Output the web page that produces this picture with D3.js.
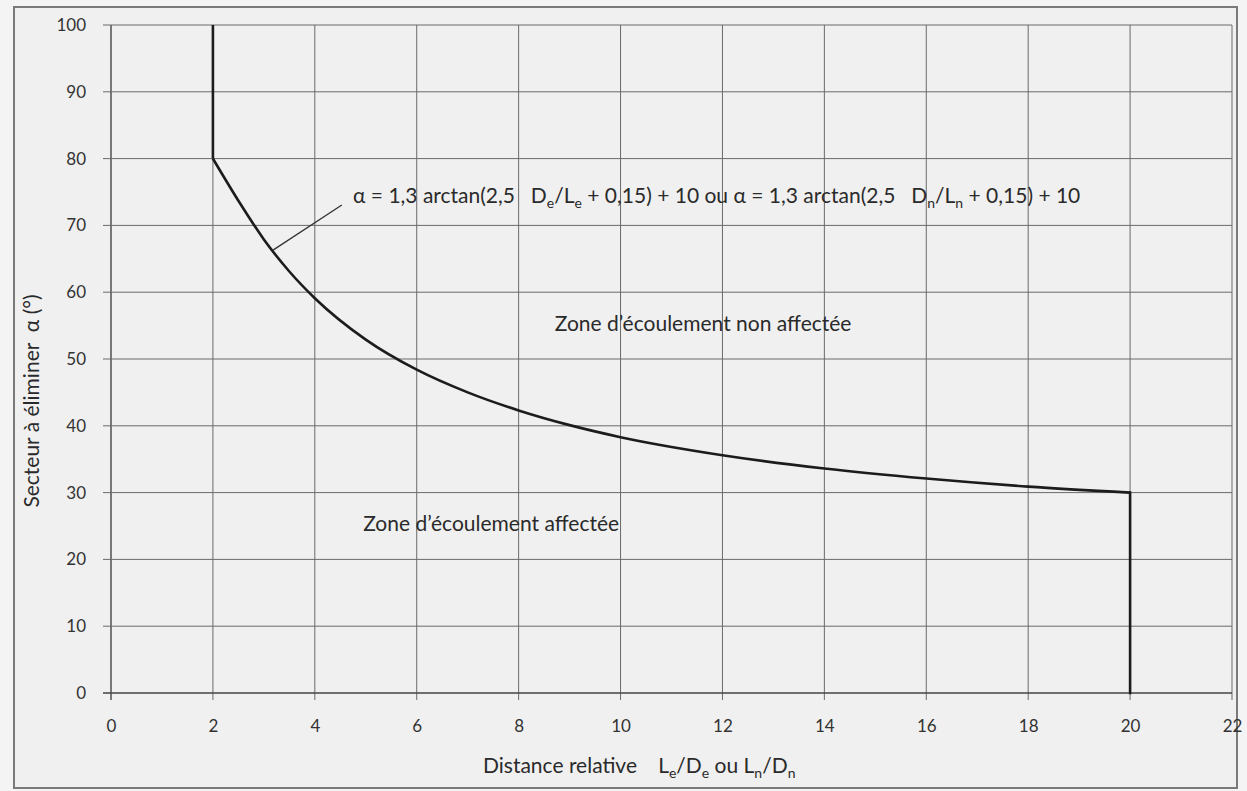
<!DOCTYPE html>
<html>
<head>
<meta charset="utf-8">
<script src="https://cdn.jsdelivr.net/npm/d3@7"></script>
<style>
  html, body { margin: 0; padding: 0; background: #f4f4f4; }
  svg { display: block; }
  text { font-family: Lato, "Open Sans", sans-serif; fill: #2a2a2a; }
</style>
</head>
<body>
<svg id="chart" width="1247" height="791"></svg>
<script>
// ---- data ----
const xTicks = [0, 2, 4, 6, 8, 10, 12, 14, 16, 18, 20, 22];
const yTicks = [0, 10, 20, 30, 40, 50, 60, 70, 80, 90, 100];
// boundary curve (x = L/D, y = alpha in degrees)
const curveX = [2, 2.5, 3, 3.5, 4, 5, 6, 7, 8, 9, 10, 12, 14, 16, 18, 20];
const curveY = [80, 73.7, 67.9, 63.1, 59.1, 52.9, 48.4, 45.0, 42.3, 40.1, 38.3, 35.6, 33.6, 32.1, 30.9, 30.0];
// vertical limits
const leftLimitX = 2, leftLimitY = [80, 100];
const rightLimitX = 20, rightLimitY = [0, 30];

const svg = d3.select("#chart");

// outer frame
svg.append("rect").attr("x", 14).attr("y", 7).attr("width", 1223).attr("height", 781)
  .attr("fill", "#f0f0f0").attr("stroke", "#7a7a7a").attr("stroke-width", 2);

const x = d3.scaleLinear().domain([0, 22]).range([111, 1232]);
const y = d3.scaleLinear().domain([0, 100]).range([693, 25]);

const g = svg.append("g");

// grid lines (extend slightly outside as ticks)
g.selectAll(".vgrid").data(xTicks).join("line")
  .attr("x1", d => x(d)).attr("x2", d => x(d))
  .attr("y1", y(100)).attr("y2", y(0) + 7)
  .attr("stroke", d => d === 0 ? "#444" : "#6a6a6a")
  .attr("stroke-width", d => d === 0 ? 1.4 : 1);
g.selectAll(".hgrid").data(yTicks).join("line")
  .attr("x1", x(0) - 8).attr("x2", x(22))
  .attr("y1", d => y(d)).attr("y2", d => y(d))
  .attr("stroke", d => d === 0 ? "#444" : "#6a6a6a")
  .attr("stroke-width", d => d === 0 ? 1.4 : 1);

// axes labels via d3 axes (lines hidden)
const xAxis = d3.axisBottom(x).tickValues(xTicks).tickSize(0).tickPadding(27).tickFormat(d3.format("d"));
const yAxis = d3.axisLeft(y).tickValues(yTicks).tickSize(0).tickPadding(25).tickFormat(d3.format("d"));
const gx = svg.append("g").attr("transform", `translate(0,${y(0)})`).call(xAxis);
const gy = svg.append("g").attr("transform", `translate(${x(0)},0)`).call(yAxis);
[gx, gy].forEach(a => {
  a.select(".domain").remove();
  a.selectAll("text").style("font-family", "Lato, 'Open Sans', sans-serif")
    .style("font-size", "17px").style("fill", "#333");
});

// curve
const line = d3.line().x((d, i) => x(curveX[i])).y((d, i) => y(curveY[i])).curve(d3.curveMonotoneX);
svg.append("path").attr("d", line(curveY)).attr("fill", "none")
  .attr("stroke", "#1c1c1c").attr("stroke-width", 2.6);
svg.append("line").attr("x1", x(leftLimitX)).attr("x2", x(leftLimitX))
  .attr("y1", y(leftLimitY[0])).attr("y2", y(leftLimitY[1]))
  .attr("stroke", "#1c1c1c").attr("stroke-width", 2.6);
svg.append("line").attr("x1", x(rightLimitX)).attr("x2", x(rightLimitX))
  .attr("y1", y(rightLimitY[0])).attr("y2", y(rightLimitY[1]))
  .attr("stroke", "#1c1c1c").attr("stroke-width", 2.6).attr("stroke-linecap", "square");

// leader line to formula
svg.append("line").attr("x1", x(3.18)).attr("y1", y(66.3)).attr("x2", x(4.53)).attr("y2", y(73.05))
  .attr("stroke", "#333").attr("stroke-width", 1.3);

const FS = "21px", SUB = "14px";
function addSub(t, s) {
  t.append("tspan").attr("dy", 5).style("font-size", SUB).text(s);
  return t.append("tspan").attr("dy", -5);
}

// formula text
const f = svg.append("text").attr("x", x(4.75)).attr("y", y(73.4)).style("font-size", FS);
f.append("tspan").text("α = 1,3 arctan(2,5\u2002 D");
addSub(f, "e").text("/L");
addSub(f, "e").text(" + 0,15) + 10 ou α = 1,3 arctan(2,5\u2002 D");
addSub(f, "n").text("/L");
addSub(f, "n").text(" + 0,15) + 10");

// zone labels
svg.append("text").attr("x", x(8.71)).attr("y", y(54.2)).style("font-size", FS)
  .text("Zone d\u2019écoulement non affectée");
svg.append("text").attr("x", x(4.95)).attr("y", y(24.3)).style("font-size", FS)
  .text("Zone d\u2019écoulement affectée");

// x axis title
const xt = svg.append("text").attr("x", 483).attr("y", 773).style("font-size", FS);
xt.append("tspan").text("Distance relative\u2003 L");
addSub(xt, "e").text("/D");
addSub(xt, "e").text(" ou L");
addSub(xt, "n").text("/D");
addSub(xt, "n");

// y axis title
svg.append("text").attr("transform", "translate(39,401) rotate(-90)")
  .attr("text-anchor", "middle").style("font-size", "21px")
  .text("Secteur à éliminer\u2002α (°)");
</script>
</body>
</html>
